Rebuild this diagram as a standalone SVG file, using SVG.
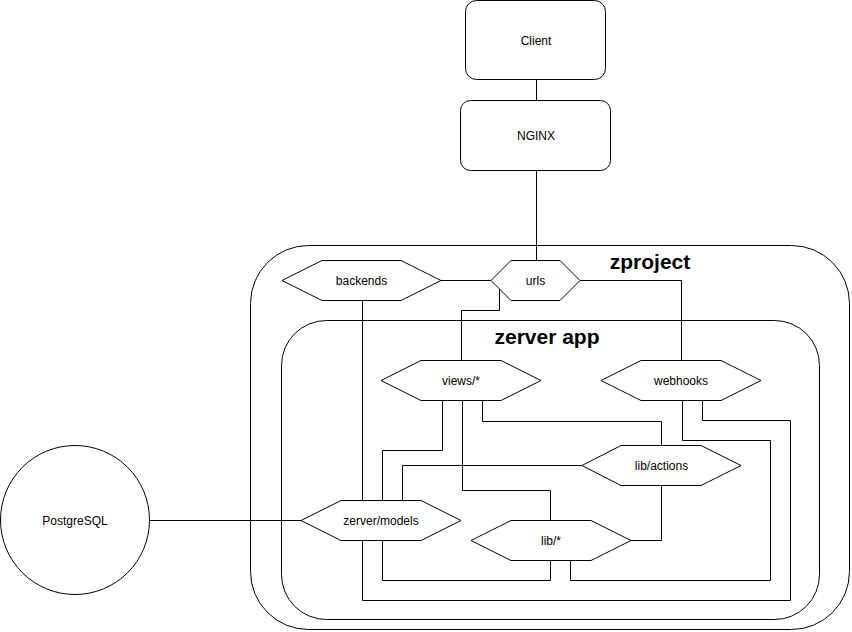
<svg xmlns="http://www.w3.org/2000/svg" width="852" height="632" viewBox="0 0 852 632">
<style>
.shape{fill:#fff;stroke:#000;stroke-width:1}
.cont{fill:none;stroke:#000;stroke-width:1}
.lbl{font-family:"Liberation Sans",Arial,sans-serif;font-size:12px;fill:#000;text-anchor:middle;dominant-baseline:central}
.title{font-family:"Liberation Sans",Arial,sans-serif;font-size:21px;font-weight:bold;fill:#000;text-anchor:middle}
.edge{fill:none;stroke:#000;stroke-width:1}
</style>
<rect width="852" height="632" fill="#fff"/>
<g id="zproject">
<rect class="cont" x="250.5" y="245.5" width="599" height="384" rx="58" ry="58"/>
<text class="title" x="650" y="269">zproject</text>
</g>
<g id="zerver-app">
<rect class="cont" x="281.5" y="320.5" width="538" height="299" rx="45" ry="45"/>
<text class="title" x="547" y="344">zerver app</text>
</g>
<g id="connectors">
<path class="edge" d="M536.5 79V100"/>
<path class="edge" d="M536.5 170V260"/>
<path class="edge" d="M441 280.5H491"/>
<path class="edge" d="M580 280.5H681.5V360"/>
<path class="edge" d="M499.5 289V310.5H461.5V360"/>
<path class="edge" d="M362.5 300V500"/>
<path class="edge" d="M150 520.5H301"/>
<path class="edge" d="M442.5 400V450.5H382.5V500"/>
<path class="edge" d="M462.5 400V490.5H550.5V520"/>
<path class="edge" d="M482.5 400V421.5H661.5V445"/>
<path class="edge" d="M582 465.5H402.5V500"/>
<path class="edge" d="M661.5 485V540.5H631"/>
<path class="edge" d="M702.5 400V420.5H790.5V600.5H362.5V540"/>
<path class="edge" d="M682.5 400V440.5H770.5V580.5H570.5V560"/>
<path class="edge" d="M382.5 540V580.5H550.5V560"/>
</g>
<g id="client">
<rect class="shape" x="465.5" y="0.5" width="140" height="79" rx="11" ry="11"/>
<text class="lbl" x="536" y="41">Client</text>
</g>
<g id="nginx">
<rect class="shape" x="460.5" y="100.5" width="150" height="70" rx="10" ry="10"/>
<text class="lbl" x="536" y="135.5">NGINX</text>
</g>
<g id="postgresql">
<circle class="shape" cx="75" cy="520" r="74.5"/>
<text class="lbl" x="75" y="520.5">PostgreSQL</text>
</g>
<g id="backends">
<polygon class="shape" points="282,280.5 322,260.5 401,260.5 441,280.5 401,300.5 322,300.5"/>
<text class="lbl" x="361.5" y="281">backends</text>
</g>
<g id="urls">
<polygon class="shape" points="491,280.5 511,260.5 560,260.5 580,280.5 560,300.5 511,300.5"/>
<text class="lbl" x="535.5" y="281">urls</text>
</g>
<g id="views">
<polygon class="shape" points="381,380.5 421,360.5 501,360.5 541,380.5 501,400.5 421,400.5"/>
<text class="lbl" x="461" y="381">views/*</text>
</g>
<g id="webhooks">
<polygon class="shape" points="601,380.5 641,360.5 721,360.5 761,380.5 721,400.5 641,400.5"/>
<text class="lbl" x="681" y="381">webhooks</text>
</g>
<g id="lib-actions">
<polygon class="shape" points="582,465.5 621,445.5 701,445.5 741,465.5 701,485.5 621,485.5"/>
<text class="lbl" x="661.5" y="466">lib/actions</text>
</g>
<g id="zerver-models">
<polygon class="shape" points="301,520.5 341,500.5 421,500.5 461,520.5 421,540.5 341,540.5"/>
<text class="lbl" x="381" y="521">zerver/models</text>
</g>
<g id="lib">
<polygon class="shape" points="471,540.5 511,520.5 591,520.5 631,540.5 591,560.5 511,560.5"/>
<text class="lbl" x="551" y="541">lib/*</text>
</g>
</svg>
